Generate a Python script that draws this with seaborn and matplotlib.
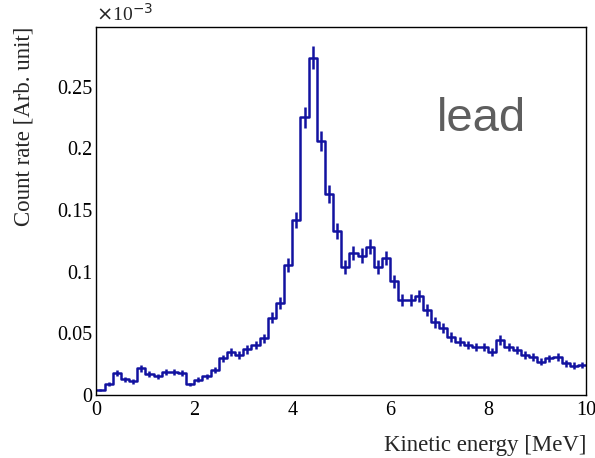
import numpy as np
import pandas as pd
import matplotlib
matplotlib.use("Agg")
import matplotlib.pyplot as plt
from matplotlib.ticker import MultipleLocator, FuncFormatter
import seaborn as sns

# Data (count rate in units of 1e-3), 60 bins from 0 to 10 MeV
e_min, e_max, n_bins = 0.0, 10.0, 60
counts = [0.004, 0.0087, 0.018, 0.0127, 0.011, 0.0216, 0.017, 0.015, 0.019, 0.019,
          0.0176, 0.0085, 0.0125, 0.015, 0.020, 0.0297, 0.035, 0.0324, 0.037, 0.0405,
          0.046, 0.0625, 0.0746, 0.105, 0.142, 0.225, 0.2735, 0.206, 0.163, 0.133,
          0.104, 0.115, 0.113, 0.120, 0.104, 0.111, 0.092, 0.077, 0.077, 0.080,
          0.069, 0.059, 0.054, 0.047, 0.043, 0.0405, 0.039, 0.039, 0.035, 0.0446,
          0.039, 0.0365, 0.0324, 0.031, 0.027, 0.0297, 0.031, 0.0257, 0.0238, 0.0243]
errors = [0.0011, 0.0016, 0.0023, 0.0020, 0.0018, 0.0026, 0.0023, 0.0021, 0.0024, 0.0024,
          0.0023, 0.0016, 0.0020, 0.0021, 0.0025, 0.0030, 0.0033, 0.0031, 0.0034, 0.0035,
          0.0038, 0.0044, 0.0048, 0.0057, 0.0066, 0.0083, 0.0092, 0.0079, 0.0071, 0.0064,
          0.0056, 0.0059, 0.0059, 0.0061, 0.0056, 0.0058, 0.0053, 0.0049, 0.0049, 0.0049,
          0.0046, 0.0043, 0.0041, 0.0038, 0.0036, 0.0035, 0.0035, 0.0035, 0.0033, 0.0037,
          0.0035, 0.0033, 0.0031, 0.0031, 0.0029, 0.0030, 0.0031, 0.0028, 0.0027, 0.0027]
x_label = "Kinetic energy [MeV]"
y_label = "Count rate [Arb. unit]"
annotation = "lead"

edges = np.linspace(e_min, e_max, n_bins + 1)
centers = 0.5 * (edges[:-1] + edges[1:])
df_step = pd.DataFrame({"x": edges, "y": list(counts) + [counts[-1]]})

sns.set_style("white")
plt.rcParams["font.family"] = ["Liberation Serif", "DejaVu Serif"]

color = "#1212a0"
fig = plt.figure(figsize=(5.95, 4.58), dpi=100)
ax = fig.add_axes([0.162, 0.1376, 0.823, 0.804])

sns.lineplot(data=df_step, x="x", y="y", drawstyle="steps-post", color=color,
             linewidth=1.8, ax=ax, estimator=None)
ax.errorbar(centers, counts, yerr=errors, fmt="none", ecolor=color,
            elinewidth=1.8, capsize=0)

ax.set_xlim(0, 10)
ax.set_ylim(0, 0.2985)
ax.xaxis.set_major_locator(MultipleLocator(2))
ax.xaxis.set_minor_locator(MultipleLocator(0.5))
ax.yaxis.set_major_locator(MultipleLocator(0.05))
ax.yaxis.set_minor_locator(MultipleLocator(0.01))
ax.yaxis.set_major_formatter(FuncFormatter(lambda v, p: "%g" % round(v, 3)))
ax.xaxis.set_major_formatter(FuncFormatter(lambda v, p: "%g" % v))

ax.tick_params(axis="both", which="both", direction="in", colors="black",
               labelsize=14.5, top=False, right=False)
ax.tick_params(axis="y", which="major", length=17, width=1)
ax.tick_params(axis="y", which="minor", length=8.5, width=1)
ax.tick_params(axis="x", which="major", length=8, width=1)
ax.tick_params(axis="x", which="minor", length=4.5, width=1)
ax.tick_params(axis="x", pad=4)
ax.tick_params(axis="y", pad=3)
for s in ax.spines.values():
    s.set_color("black")
    s.set_linewidth(1.0)

ax.set_xlabel(x_label, fontsize=16.5, loc="right", labelpad=11)
ax.set_ylabel(y_label, fontsize=16.5, loc="top", labelpad=16)
ax.text(0.0, 1.005, r"$\times$10$^{-3}$", transform=ax.transAxes,
        fontsize=14, ha="left", va="bottom")
ax.text(0.787, 0.75, annotation, transform=ax.transAxes, fontsize=34,
        color="#5e5e5e", ha="center", va="center", family=["Liberation Sans", "DejaVu Sans"])

fig.savefig("out.png", dpi=100)
